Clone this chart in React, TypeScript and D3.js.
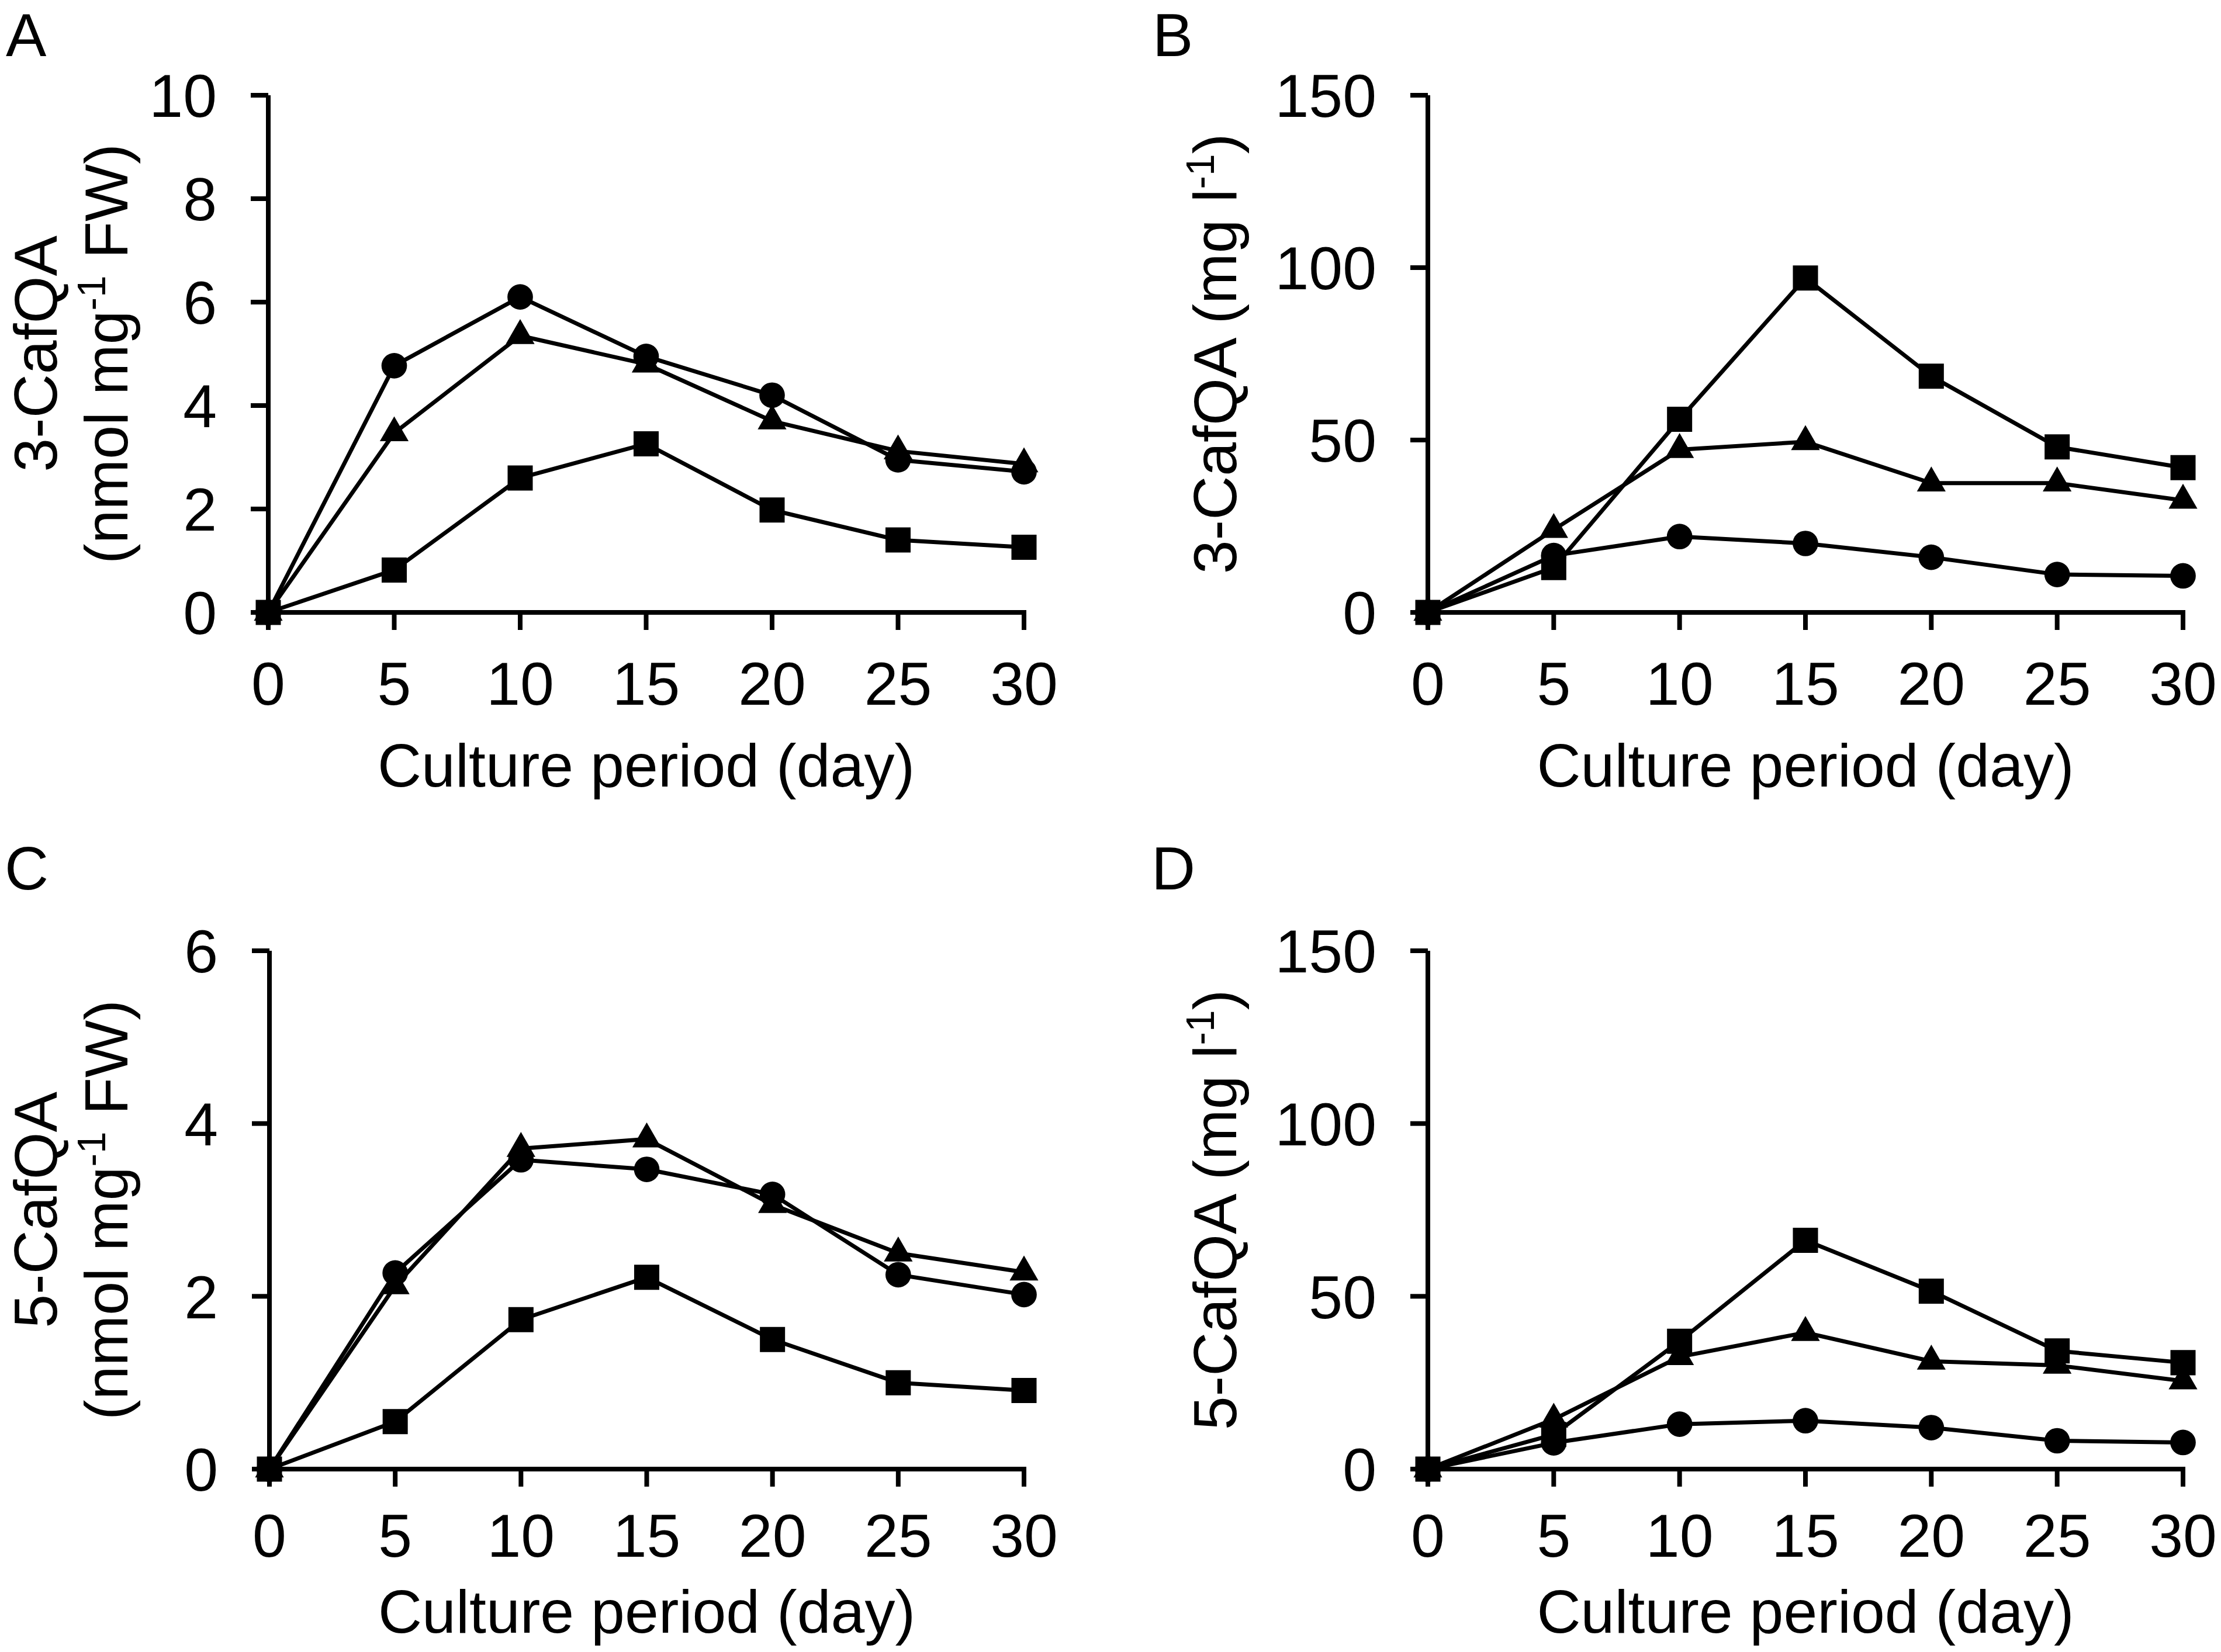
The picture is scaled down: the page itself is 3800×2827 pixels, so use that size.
import React from "react";
import * as d3 from "d3";

// culture days sampled
const days = [0, 5, 10, 15, 20, 25, 30];

// 3-CafQA content in cells (nmol mg-1 FW)
const cell3Circle = [0, 4.77, 6.1, 4.95, 4.2, 2.95, 2.72];
const cell3Triangle = [0, 3.47, 5.35, 4.8, 3.7, 3.12, 2.87];
const cell3Square = [0, 0.82, 2.6, 3.26, 1.98, 1.4, 1.26];

// 3-CafQA in medium (mg l-1)
const medium3Circle = [0, 16.5, 22, 20, 16, 11, 10.6];
const medium3Triangle = [0, 24, 47.2, 49.5, 37.5, 37.5, 32.5];
const medium3Square = [0, 13, 56, 97, 68.5, 48, 42];

// 5-CafQA content in cells (nmol mg-1 FW)
const cell5Circle = [0, 2.27, 3.58, 3.47, 3.18, 2.25, 2.02];
const cell5Triangle = [0, 2.12, 3.71, 3.82, 3.06, 2.5, 2.28];
const cell5Square = [0, 0.55, 1.73, 2.22, 1.5, 1.0, 0.91];

// 5-CafQA in medium (mg l-1)
const medium5Circle = [0, 7.6, 13, 14, 12, 8.2, 7.7];
const medium5Triangle = [0, 14.4, 32.5, 39.5, 31.2, 30, 25.5];
const medium5Square = [0, 10, 37, 66.2, 51.5, 34.2, 30.8];

const cellTicks = [0, 2, 4, 6, 8, 10];
const cell5Ticks = [0, 2, 4, 6];
const mediumTicks = [0, 50, 100, 150];

const FONT = "'Liberation Sans', Arial, Helvetica, sans-serif";
const FS = 104;

type Shape = "circle" | "triangle" | "square";

const symbolFor: Record<Shape, d3.SymbolType> = {
  circle: d3.symbolCircle,
  triangle: d3.symbolTriangle,
  square: d3.symbolSquare,
};
// marker areas (px^2)
const symbolSize: Record<Shape, number> = {
  circle: 1500,
  triangle: 1050,
  square: 1850,
};

type PanelDef = {
  letter: string;
  letterX: number;
  letterY: number;
  x0: number;
  x1: number;
  yTop: number;
  yBot: number;
  ticks: number[];
  titleLines: [string, string][];
  titleX: number[];
  tickLabelDy: number;
  xTitleDy: number;
  series: { shape: Shape; values: number[] }[];
};

const panels: PanelDef[] = [
  {
    letter: "A",
    letterX: 10,
    letterY: 96,
    x0: 459,
    x1: 1752,
    yTop: 163,
    yBot: 1048,
    ticks: cellTicks,
    titleLines: [["3-CafQA", ""], ["(nmol mg", " FW)"]],
    titleX: [97, 218],
    tickLabelDy: 158,
    xTitleDy: 298,
    series: [
      { shape: "circle", values: cell3Circle },
      { shape: "triangle", values: cell3Triangle },
      { shape: "square", values: cell3Square },
    ],
  },
  {
    letter: "B",
    letterX: 1972,
    letterY: 96,
    x0: 2443,
    x1: 3735,
    yTop: 163,
    yBot: 1048,
    ticks: mediumTicks,
    titleLines: [["3-CafQA (mg l", ")"]],
    titleX: [2115],
    tickLabelDy: 158,
    xTitleDy: 298,
    series: [
      { shape: "circle", values: medium3Circle },
      { shape: "triangle", values: medium3Triangle },
      { shape: "square", values: medium3Square },
    ],
  },
  {
    letter: "C",
    letterX: 8,
    letterY: 1522,
    x0: 461,
    x1: 1752,
    yTop: 1627,
    yBot: 2514,
    ticks: cell5Ticks,
    titleLines: [["5-CafQA", ""], ["(nmol mg", " FW)"]],
    titleX: [97, 218],
    tickLabelDy: 150,
    xTitleDy: 280,
    series: [
      { shape: "circle", values: cell5Circle },
      { shape: "triangle", values: cell5Triangle },
      { shape: "square", values: cell5Square },
    ],
  },
  {
    letter: "D",
    letterX: 1970,
    letterY: 1522,
    x0: 2443,
    x1: 3735,
    yTop: 1627,
    yBot: 2514,
    ticks: mediumTicks,
    titleLines: [["5-CafQA (mg l", ")"]],
    titleX: [2115],
    tickLabelDy: 150,
    xTitleDy: 280,
    series: [
      { shape: "circle", values: medium5Circle },
      { shape: "triangle", values: medium5Triangle },
      { shape: "square", values: medium5Square },
    ],
  },
];

const TICK = 30;
const AXIS_W = 8;
const LINE_W = 7;

const Panel = ({ p }: { p: PanelDef }) => {
  const x = d3.scaleLinear().domain([0, 30]).range([p.x0, p.x1]);
  const yMax = p.ticks[p.ticks.length - 1];
  const y = d3.scaleLinear().domain([0, yMax]).range([p.yBot, p.yTop]);
  const line = d3
    .line<number>()
    .x((_, i) => x(days[i]))
    .y((d) => y(d));
  const yMid = (p.yTop + p.yBot) / 2;

  return (
    <g>
      <text x={p.letterX} y={p.letterY} fontSize={FS} fontFamily={FONT}>
        {p.letter}
      </text>

      {/* axes */}
      <line x1={p.x0} x2={p.x0} y1={p.yTop} y2={p.yBot} stroke="#000" strokeWidth={AXIS_W} />
      <line
        x1={p.x0}
        x2={p.x1 + AXIS_W / 2}
        y1={p.yBot}
        y2={p.yBot}
        stroke="#000"
        strokeWidth={AXIS_W}
      />
      {p.ticks.map((t) => (
        <g key={"y" + t}>
          <line x1={p.x0 - TICK} x2={p.x0} y1={y(t)} y2={y(t)} stroke="#000" strokeWidth={AXIS_W} />
          <text
            x={p.x0 - 88}
            y={y(t)}
            dy="0.36em"
            textAnchor="end"
            fontSize={FS}
            fontFamily={FONT}
          >
            {t}
          </text>
        </g>
      ))}
      {days.map((d) => (
        <g key={"x" + d}>
          <line x1={x(d)} x2={x(d)} y1={p.yBot} y2={p.yBot + TICK} stroke="#000" strokeWidth={AXIS_W} />
          <text
            x={x(d)}
            y={p.yBot + p.tickLabelDy}
            textAnchor="middle"
            fontSize={FS}
            fontFamily={FONT}
          >
            {d}
          </text>
        </g>
      ))}
      <text
        x={(p.x0 + p.x1) / 2}
        y={p.yBot + p.xTitleDy}
        textAnchor="middle"
        fontSize={FS}
        fontFamily={FONT}
      >
        Culture period (day)
      </text>

      {/* y title, rotated */}
      {p.titleLines.map(([pre, post], i) => (
        <text
          key={i}
          transform={`translate(${p.titleX[i]},${yMid}) rotate(-90)`}
          textAnchor="middle"
          fontSize={FS}
          fontFamily={FONT}
        >
          {pre}
          {post !== "" && (
            <>
              <tspan dy={-38} fontSize={FS * 0.65}>
                -1
              </tspan>
              <tspan dy={38}>{post}</tspan>
            </>
          )}
        </text>
      ))}

      {/* series lines then markers */}
      {p.series.map((s) => (
        <path
          key={"l" + s.shape}
          d={line(s.values) || ""}
          fill="none"
          stroke="#000"
          strokeWidth={LINE_W}
          strokeLinejoin="round"
        />
      ))}
      {p.series.map((s) =>
        s.values.map((v, i) => (
          <path
            key={s.shape + i}
            transform={`translate(${x(days[i])},${y(v)})`}
            d={d3.symbol().type(symbolFor[s.shape]).size(symbolSize[s.shape])() || ""}
            fill="#000"
          />
        ))
      )}
    </g>
  );
};

export default function App() {
  return (
    <svg
      width={3800}
      height={2827}
      viewBox="0 0 3800 2827"
      style={{ position: "absolute", left: 0, top: 0, background: "#fff" }}
    >
      <rect width={3800} height={2827} fill="#fff" />
      {panels.map((p) => (
        <Panel key={p.letter} p={p} />
      ))}
    </svg>
  );
}
